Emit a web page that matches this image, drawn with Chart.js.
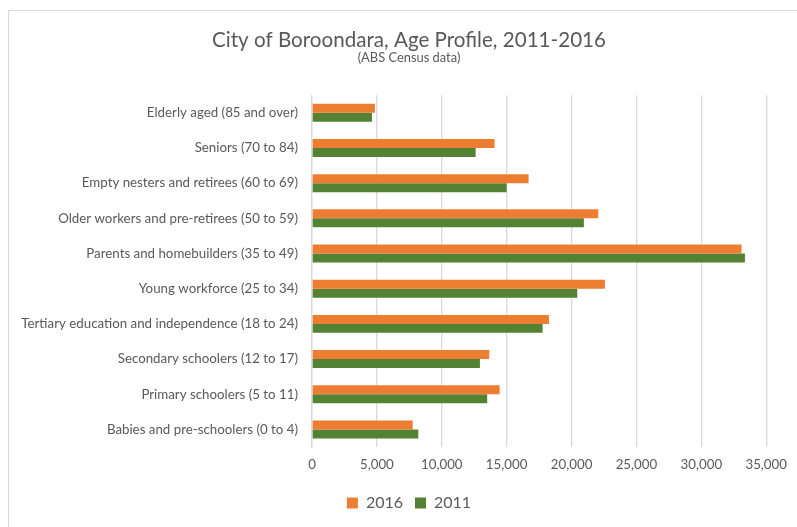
<!DOCTYPE html>
<html>
<head>
<meta charset="utf-8">
<script src="https://cdn.jsdelivr.net/npm/chart.js@4"></script>
<style>
  html, body { margin: 0; padding: 0; background: #ffffff; overflow: hidden; }
  #frame { position: absolute; left: 8px; top: 10px; width: 900px; height: 600px; border: 1.5px solid #d9d9d9; box-sizing: border-box; }
  #wrap { position: absolute; left: 0; top: 0; width: 797px; height: 527px; overflow: hidden; }
</style>
</head>
<body>
<div id="frame"></div>
<div id="wrap"><canvas id="c" width="797" height="527"></canvas></div>
<script>
const categories = [
  "Elderly aged (85 and over)",
  "Seniors (70 to 84)",
  "Empty nesters and retirees (60 to 69)",
  "Older workers and pre-retirees (50 to 59)",
  "Parents and homebuilders (35 to 49)",
  "Young workforce (25 to 34)",
  "Tertiary education and independence (18 to 24)",
  "Secondary schoolers (12 to 17)",
  "Primary schoolers (5 to 11)",
  "Babies and pre-schoolers (0 to 4)"
];
const values2016 = [4850, 14070, 16690, 22060, 33100, 22570, 18260, 13660, 14460, 7760];
const values2011 = [4620, 12610, 15000, 20950, 33360, 20440, 17770, 12940, 13500, 8190];
const seriesNames = ["2016", "2011"];
const xTicks = [0, 5000, 10000, 15000, 20000, 25000, 30000, 35000];

const FONT = "Lato, 'Open Sans', sans-serif";
const GREY = "#595959";

// Centre title, subtitle and legend on the chart frame rather than the canvas
const centreShift = {
  id: "centreShift",
  afterLayout(chart) {
    chart.boxes.forEach(b => {
      if (!b.axis && (b.position === "top" || b.position === "bottom")) {
        b.left += 51;
      }
    });
  }
};

new Chart(document.getElementById("c"), {
  type: "bar",
  data: {
    labels: categories,
    datasets: [
      { label: seriesNames[0], data: values2016, backgroundColor: "#ed7d31", borderWidth: 0,
        categoryPercentage: 0.51, barPercentage: 1.0 },
      { label: seriesNames[1], data: values2011, backgroundColor: "#548235", borderWidth: 0,
        categoryPercentage: 0.51, barPercentage: 1.0 }
    ]
  },
  plugins: [centreShift],
  options: {
    indexAxis: "y",
    responsive: false,
    animation: false,
    devicePixelRatio: 1,
    layout: { padding: { left: 0, right: 30, top: 0, bottom: 6 } },
    plugins: {
      title: {
        display: true,
        text: "City of Boroondara, Age Profile, 2011-2016",
        color: GREY,
        font: { family: FONT, size: 20.6, weight: "normal" },
        padding: { top: 28, bottom: -2 }
      },
      subtitle: {
        display: true,
        text: "(ABS Census data)",
        color: GREY,
        font: { family: FONT, size: 12.9, weight: "normal" },
        padding: { top: -1, bottom: 30 }
      },
      legend: {
        position: "bottom",
        labels: {
          color: GREY,
          font: { family: FONT, size: 16 },
          boxWidth: 11,
          boxHeight: 11,
          padding: 12
        }
      },
      tooltip: { enabled: false }
    },
    scales: {
      x: {
        min: 0,
        max: 35000,
        afterBuildTicks: (axis) => { axis.ticks = xTicks.map(v => ({ value: v })); },
        ticks: {
          color: GREY,
          font: { family: FONT, size: 13.3 },
          padding: 10,
          callback: (v) => v.toLocaleString("en-US")
        },
        grid: { color: "#d9d9d9", lineWidth: 1.3, drawTicks: false },
        border: { display: false }
      },
      y: {
        afterFit: (axis) => { axis.width = 312; },
        ticks: {
          color: GREY,
          font: { family: FONT, size: 13.3 },
          padding: 14
        },
        grid: { display: false, drawTicks: false },
        border: { display: true, color: "#d9d9d9", width: 1.3 }
      }
    }
  }
});
</script>
</body>
</html>
